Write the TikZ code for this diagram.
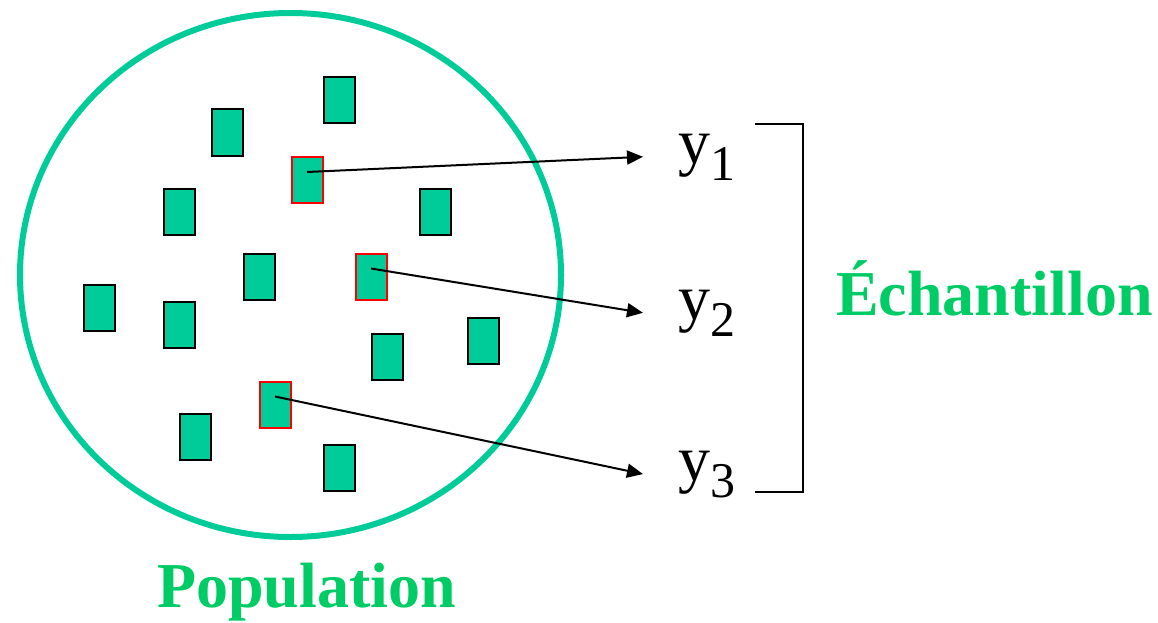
\documentclass[tikz,border=0pt]{standalone}
\usepackage{fontspec}
\setmainfont{Liberation Serif}
\usetikzlibrary{arrows.meta,positioning}
\definecolor{popgreen}{RGB}{0,204,153}
\definecolor{txtgreen}{RGB}{0,204,102}
\newcommand{\ylab}[1]{{\fontsize{64}{64}\selectfont y}\raisebox{-17pt}{\fontsize{50}{50}\selectfont #1}}

\begin{document}
\begin{tikzpicture}[x=1pt,y=-1pt]

		\tikzset{line/.style={draw,line width=2pt}}
		\tikzset{arrow/.style={line,-{Triangle[length=16pt,width=14pt]}}}
		\tikzset{item/.style={line,fill=popgreen,minimum width=31pt,minimum height=46pt,inner sep=0pt}}
		\tikzset{picked/.style={item,draw=red}}
		\tikzset{yname/.style={inner sep=0pt,anchor=base west}}
		\tikzset{title/.style={inner sep=0pt,anchor=base west,text=txtgreen,font=\fontsize{64}{64}\selectfont\bfseries}}

		\useasboundingbox (0,0) rectangle (1158,623);

		% population
		\draw[popgreen,line width=6pt] (290.5,275) ellipse [x radius=270.5pt, y radius=262pt];

		\node[item] (r1) at (339.5,100) {};
		\node[item] (r2) at (227.5,132.5) {};
		\node[item] (r3) at (179.5,212) {};
		\node[item] (r4) at (435.5,212) {};
		\node[item] (r5) at (259.5,276.5) {};
		\node[item] (r6) at (99.5,308) {};
		\node[item] (r7) at (179.5,324.5) {};
		\node[item] (r8) at (387.5,356.5) {};
		\node[item] (r9) at (483.5,340.5) {};
		\node[item] (r10) at (195.5,436.5) {};
		\node[item] (r11) at (339.5,468) {};

		\node[picked] (s1) at (307,180) {};
		\node[picked] (s2) at (371,276.5) {};
		\node[picked] (s3) at (275,404.5) {};

		% sample
		\node[yname] (y1) at (678,163) {\ylab{1}};
		\node[yname] (y2) at (678,319) {\ylab{2}};
		\node[yname] (y3) at (678,480) {\ylab{3}};

		\draw[line] (755,124) -| (803,492) -- (755,492);

		\node[title] (ech) at (836,315) {Échantillon};
		\node[title] (pop) at (157,607) {Population};

		\draw[arrow] ([yshift=8pt]s1.center) -- ([xshift=-35pt]y1.west);
		\draw[arrow] ([yshift=8pt]s2.center) -- ([xshift=-35pt]y2.west);
		\draw[arrow] ([yshift=8pt]s3.center) -- ([xshift=-35pt]y3.west);

	\end{tikzpicture}
\end{document}
